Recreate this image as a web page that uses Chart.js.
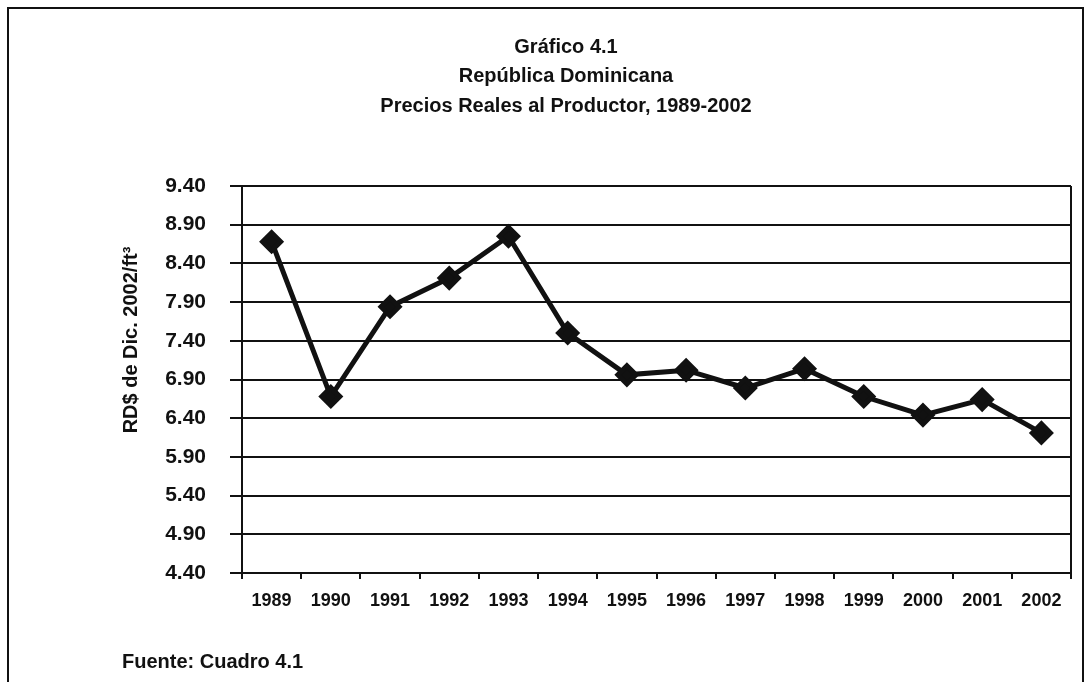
<!DOCTYPE html>
<html>
<head>
<meta charset="utf-8">
<script src="https://cdn.jsdelivr.net/npm/chart.js@4/dist/chart.umd.min.js"></script>
<style>
    html, body { margin: 0; padding: 0; background: #fff; }
    .frame { position: relative; width: 1085px; height: 682px; }
    .frame canvas { position: absolute; left: 0; top: 0; }
</style>
</head>
<body>
<div class="frame">
    <canvas id="priceChart" width="1085" height="682"></canvas>
</div>
<script>
// Data
const years = ['1989', '1990', '1991', '1992', '1993', '1994', '1995', '1996', '1997', '1998', '1999', '2000', '2001', '2002'];
const realPrices = [8.68, 6.68, 7.84, 8.21, 8.75, 7.50, 6.96, 7.02, 6.79, 7.04, 6.68, 6.44, 6.64, 6.21];
const titleLines = ['Gráfico 4.1', 'República Dominicana', 'Precios Reales al Productor, 1989-2002'];
const yAxisTitle = 'RD$ de Dic. 2002/ft³';
const sourceNote = 'Fuente: Cuadro 4.1';

const ink = '#111';
const fontFamily = '"Liberation Sans", Arial, sans-serif';

// Frame, titles, right border and source note
const decorations = {
    id: 'decorations',
    afterDraw(chart) {
        const ctx = chart.ctx;
        const area = chart.chartArea;
        ctx.save();
        ctx.strokeStyle = ink;
        ctx.lineWidth = 2;
        ctx.strokeRect(8, 8, 1075, 700);

        ctx.beginPath();
        ctx.moveTo(area.right, area.top);
        ctx.lineTo(area.right, area.bottom);
        ctx.stroke();

        ctx.fillStyle = ink;
        ctx.font = 'bold 20px ' + fontFamily;
        ctx.textAlign = 'center';
        ctx.textBaseline = 'middle';
        titleLines.forEach((line, i) => ctx.fillText(line, 566, 47 + i * 29.5));

        ctx.textAlign = 'left';
        ctx.fillText(sourceNote, 122, 662);

        ctx.translate(131, 340);
        ctx.rotate(-Math.PI / 2);
        ctx.textAlign = 'center';
        ctx.fillText(yAxisTitle, 0, 0);
        ctx.restore();
    }
};

new Chart(document.getElementById('priceChart'), {
    type: 'line',
    data: {
        labels: years,
        datasets: [{
            data: realPrices,
            borderColor: ink,
            backgroundColor: ink,
            borderWidth: 5,
            pointStyle: 'rectRot',
            pointRadius: 9,
            pointHoverRadius: 9,
            tension: 0
        }]
    },
    options: {
        responsive: false,
        animation: false,
        layout: { padding: { left: 150, right: 11, top: 186, bottom: 50 } },
        plugins: { legend: { display: false }, tooltip: { enabled: false } },
        scales: {
            x: {
                offset: true,
                grid: { display: true, drawOnChartArea: false, offset: true, color: ink, lineWidth: 2, tickLength: 6 },
                border: { color: ink, width: 2 },
                ticks: { color: ink, padding: 11, maxRotation: 0, font: { family: fontFamily, size: 18, weight: 'bold' } },
                afterFit: (scale) => { scale.height = 59; }
            },
            y: {
                min: 4.4,
                max: 9.4,
                grid: { color: ink, lineWidth: 2, tickLength: 12 },
                border: { color: ink, width: 2 },
                ticks: {
                    stepSize: 0.5,
                    color: ink,
                    padding: 24,
                    font: { family: fontFamily, size: 21, weight: 'bold' },
                    callback: (v) => Number(v).toFixed(2)
                },
                afterFit: (scale) => { scale.width = 92; }
            }
        }
    },
    plugins: [decorations]
});
</script>
</body>
</html>
